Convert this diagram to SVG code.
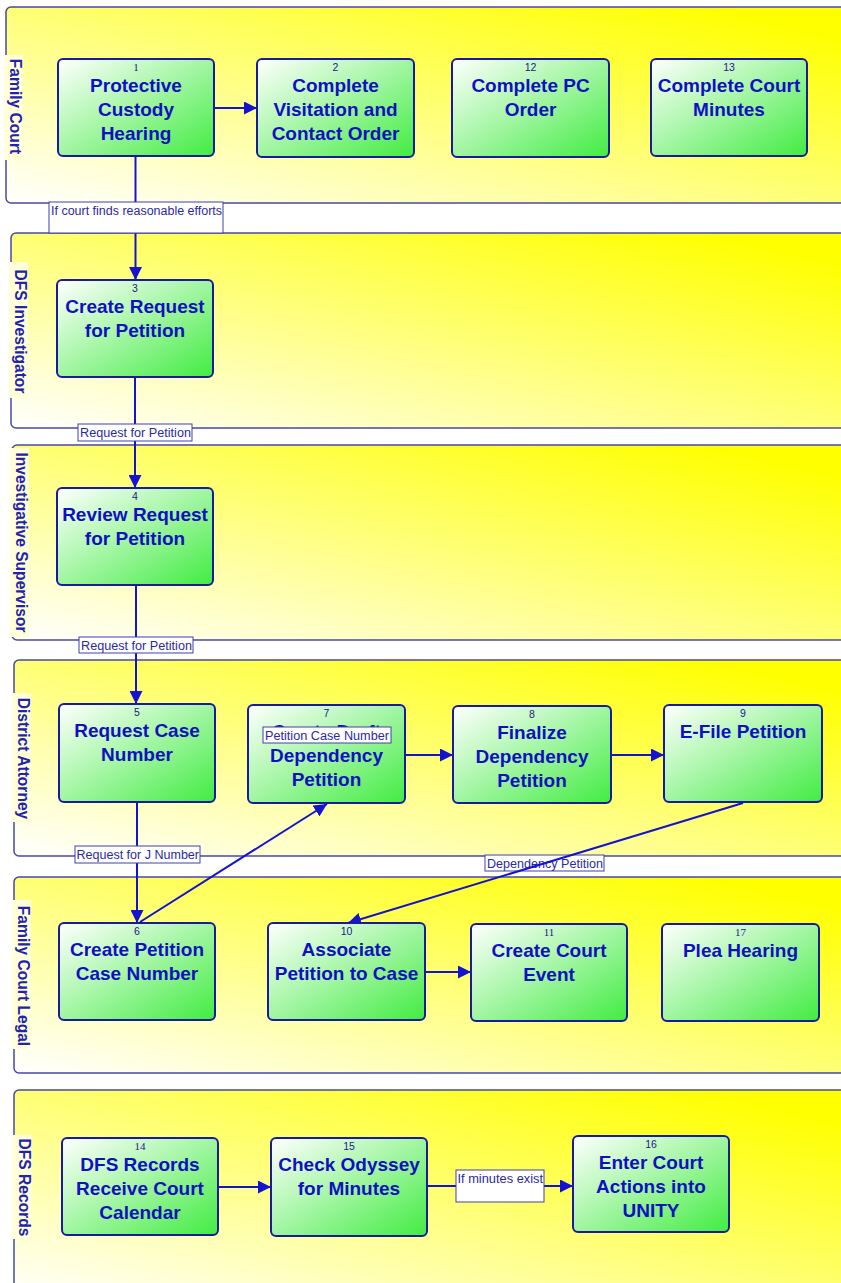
<svg xmlns="http://www.w3.org/2000/svg" width="841" height="1283" viewBox="0 0 841 1283">
  <defs>
    <linearGradient id="laneFill" x1="0" y1="1" x2="1" y2="0">
      <stop offset="0" stop-color="#FFFFFF"/>
      <stop offset="0.92" stop-color="#FFFF00"/>
      <stop offset="1" stop-color="#FFFF00"/>
    </linearGradient>
    <linearGradient id="nodeFill" x1="0" y1="0" x2="1" y2="1">
      <stop offset="0" stop-color="#FFFFFF"/>
      <stop offset="1" stop-color="#42EC42"/>
    </linearGradient>
    <marker id="arr" viewBox="0 0 12 12" refX="12" refY="6" markerWidth="13" markerHeight="13" markerUnits="userSpaceOnUse" orient="auto">
      <path d="M0,0 L12,6 L0,12 z" fill="#1414D0"/>
    </marker>
    <style>
      .lane { fill: url(#laneFill); stroke: #4848A8; stroke-width: 1.5; }
      .lanebg { fill: #FFFFD8; }
      .lanelbl { font-family: "Liberation Sans", Arial, sans-serif; font-weight: bold; font-size: 15.6px; fill: #2222B0; text-anchor: middle; }
      .node { fill: url(#nodeFill); stroke: #1A1A9C; stroke-width: 2; }
      .num { font-family: "Liberation Sans", Arial, sans-serif; font-size: 10.5px; fill: #20208A; text-anchor: middle; }
      .nums { font-family: "Liberation Serif", "Times New Roman", serif; font-size: 11px; fill: #20208A; text-anchor: middle; }
      .ttl { font-family: "Liberation Sans", Arial, sans-serif; font-weight: bold; font-size: 19px; fill: #1010C0; text-anchor: middle; }
      .conn { stroke: #1414D0; stroke-width: 2; fill: none; marker-end: url(#arr); }
      .lblbox { fill: #FFFFFF; stroke: #4040B0; stroke-width: 1; }
      .lbl { font-family: "Liberation Sans", Arial, sans-serif; font-size: 12.5px; fill: #2A2AA0; }
    </style>
  </defs>

  <rect width="841" height="1283" fill="#FFFFFF"/>

  <!-- swimlanes -->
  <g id="lanes">
    <g id="lane-family-court">
      <rect class="lane" x="6" y="7" width="845" height="196" rx="5"/>
      <rect class="lanebg" x="4" y="55" width="19" height="105"/>
      <text class="lanelbl" transform="translate(10,106.5) rotate(90)">Family Court</text>
    </g>
    <g id="lane-dfs-investigator">
      <rect class="lane" x="11" y="233" width="840" height="195" rx="5"/>
      <rect class="lanebg" x="9" y="262" width="19" height="136"/>
      <text class="lanelbl" transform="translate(15,331.5) rotate(90)">DFS Investigator</text>
    </g>
    <g id="lane-investigative-supervisor">
      <rect class="lane" x="12" y="445" width="839" height="195" rx="5"/>
      <rect class="lanebg" x="10" y="448" width="19" height="189"/>
      <text class="lanelbl" transform="translate(15.5,542.5) rotate(90)">Investigative Supervisor</text>
    </g>
    <g id="lane-district-attorney">
      <rect class="lane" x="14" y="660" width="837" height="196" rx="5"/>
      <rect class="lanebg" x="12" y="693" width="19" height="129"/>
      <text class="lanelbl" transform="translate(18,758.5) rotate(90)">District Attorney</text>
    </g>
    <g id="lane-family-court-legal">
      <rect class="lane" x="14" y="877" width="837" height="196" rx="5"/>
      <rect class="lanebg" x="12" y="900" width="19" height="149"/>
      <text class="lanelbl" transform="translate(18,976) rotate(90)">Family Court Legal</text>
    </g>
    <g id="lane-dfs-records">
      <rect class="lane" x="14" y="1090" width="837" height="210" rx="5"/>
      <rect class="lanebg" x="12" y="1135" width="20" height="104"/>
      <text class="lanelbl" transform="translate(19,1187.5) rotate(90)">DFS Records</text>
    </g>
  </g>

  <!-- connectors -->
  <g id="connectors">
    <path class="conn" d="M214,108 L257,108"/>
    <path class="conn" d="M135.5,156 L135.5,280"/>
    <path class="conn" d="M135,377 L135,488"/>
    <path class="conn" d="M136,585 L136,704"/>
    <path class="conn" d="M137,802 L137,923"/>
    <path class="conn" d="M140,922 L327,804"/>
    <path class="conn" d="M405,755 L453,755"/>
    <path class="conn" d="M611,755 L664,755"/>
    <path class="conn" d="M425,972 L471,972"/>
    <path class="conn" d="M218,1187 L271,1187"/>
    <path class="conn" d="M427,1186 L573,1186"/>
    <!-- E-File -> Associate runs over its own label -->
    <g id="label-dependency-petition">
      <rect class="lblbox" x="485" y="855" width="119" height="16"/>
      <text class="lbl" x="487" y="868" textLength="116" lengthAdjust="spacingAndGlyphs">Dependency Petition</text>
    </g>
    <path class="conn" d="M743,803 L348,923"/>
  </g>

  <!-- process nodes -->
  <g id="node-1">
    <rect class="node" x="58" y="59" width="156" height="97" rx="5"/>
    <text class="nums" x="136" y="71">1</text>
    <text class="ttl" x="136" y="92">Protective</text>
    <text class="ttl" x="136" y="116">Custody</text>
    <text class="ttl" x="136" y="140">Hearing</text>
  </g>
  <g id="node-2">
    <rect class="node" x="257" y="59" width="157" height="98" rx="5"/>
    <text class="num" x="335.5" y="71">2</text>
    <text class="ttl" x="335.5" y="92">Complete</text>
    <text class="ttl" x="335.5" y="116">Visitation and</text>
    <text class="ttl" x="335.5" y="140">Contact Order</text>
  </g>
  <g id="node-12">
    <rect class="node" x="452" y="59" width="157" height="98" rx="5"/>
    <text class="num" x="530.5" y="71">12</text>
    <text class="ttl" x="530.5" y="92">Complete PC</text>
    <text class="ttl" x="530.5" y="116">Order</text>
  </g>
  <g id="node-13">
    <rect class="node" x="651" y="59" width="156" height="97" rx="5"/>
    <text class="num" x="729" y="71">13</text>
    <text class="ttl" x="729" y="92">Complete Court</text>
    <text class="ttl" x="729" y="116">Minutes</text>
  </g>
  <g id="node-3">
    <rect class="node" x="57" y="280" width="156" height="97" rx="5"/>
    <text class="num" x="135" y="292">3</text>
    <text class="ttl" x="135" y="313">Create Request</text>
    <text class="ttl" x="135" y="337">for Petition</text>
  </g>
  <g id="node-4">
    <rect class="node" x="57" y="488" width="156" height="97" rx="5"/>
    <text class="num" x="135" y="500">4</text>
    <text class="ttl" x="135" y="521">Review Request</text>
    <text class="ttl" x="135" y="545">for Petition</text>
  </g>
  <g id="node-5">
    <rect class="node" x="59" y="704" width="156" height="98" rx="5"/>
    <text class="num" x="137" y="716">5</text>
    <text class="ttl" x="137" y="737">Request Case</text>
    <text class="ttl" x="137" y="761">Number</text>
  </g>
  <g id="node-7">
    <rect class="node" x="248" y="705" width="157" height="98" rx="5"/>
    <text class="num" x="326.5" y="717">7</text>
    <text class="ttl" x="326.5" y="738">Create Draft</text>
    <text class="ttl" x="326.5" y="762">Dependency</text>
    <text class="ttl" x="326.5" y="786">Petition</text>
  </g>
  <g id="node-8">
    <rect class="node" x="453" y="706" width="158" height="97" rx="5"/>
    <text class="num" x="532" y="718">8</text>
    <text class="ttl" x="532" y="739">Finalize</text>
    <text class="ttl" x="532" y="763">Dependency</text>
    <text class="ttl" x="532" y="787">Petition</text>
  </g>
  <g id="node-9">
    <rect class="node" x="664" y="705" width="158" height="97" rx="5"/>
    <text class="num" x="743" y="717">9</text>
    <text class="ttl" x="743" y="738">E-File Petition</text>
  </g>
  <g id="node-6">
    <rect class="node" x="59" y="923" width="156" height="97" rx="5"/>
    <text class="num" x="137" y="935">6</text>
    <text class="ttl" x="137" y="956">Create Petition</text>
    <text class="ttl" x="137" y="980">Case Number</text>
  </g>
  <g id="node-10">
    <rect class="node" x="268" y="923" width="157" height="97" rx="5"/>
    <text class="num" x="346.5" y="935">10</text>
    <text class="ttl" x="346.5" y="956">Associate</text>
    <text class="ttl" x="346.5" y="980">Petition to Case</text>
  </g>
  <g id="node-11">
    <rect class="node" x="471" y="924" width="156" height="97" rx="5"/>
    <text class="nums" x="549" y="936">11</text>
    <text class="ttl" x="549" y="957">Create Court</text>
    <text class="ttl" x="549" y="981">Event</text>
  </g>
  <g id="node-17">
    <rect class="node" x="662" y="924" width="157" height="97" rx="5"/>
    <text class="nums" x="740.5" y="936">17</text>
    <text class="ttl" x="740.5" y="957">Plea Hearing</text>
  </g>
  <g id="node-14">
    <rect class="node" x="62" y="1138" width="156" height="97" rx="5"/>
    <text class="nums" x="140" y="1150">14</text>
    <text class="ttl" x="140" y="1171">DFS Records</text>
    <text class="ttl" x="140" y="1195">Receive Court</text>
    <text class="ttl" x="140" y="1219">Calendar</text>
  </g>
  <g id="node-15">
    <rect class="node" x="271" y="1138" width="156" height="98" rx="5"/>
    <text class="num" x="349" y="1150">15</text>
    <text class="ttl" x="349" y="1171">Check Odyssey</text>
    <text class="ttl" x="349" y="1195">for Minutes</text>
  </g>
  <g id="node-16">
    <rect class="node" x="573" y="1136" width="156" height="96" rx="5"/>
    <text class="num" x="651" y="1148">16</text>
    <text class="ttl" x="651" y="1169">Enter Court</text>
    <text class="ttl" x="651" y="1193">Actions into</text>
    <text class="ttl" x="651" y="1217">UNITY</text>
  </g>

  <!-- connector labels -->
  <g id="connector-labels">
    <rect class="lblbox" x="49" y="202" width="174" height="31"/>
    <text class="lbl" x="51" y="215" textLength="171" lengthAdjust="spacingAndGlyphs">If court finds reasonable efforts</text>

    <rect class="lblbox" x="78" y="424" width="114" height="17"/>
    <text class="lbl" x="80" y="437" textLength="111" lengthAdjust="spacingAndGlyphs">Request for Petition</text>

    <rect class="lblbox" x="79" y="637" width="114" height="16"/>
    <text class="lbl" x="81" y="650" textLength="111" lengthAdjust="spacingAndGlyphs">Request for Petition</text>

    <rect class="lblbox" x="75" y="846" width="125" height="17"/>
    <text class="lbl" x="76.5" y="859" textLength="122.5" lengthAdjust="spacingAndGlyphs">Request for J Number</text>

    <rect class="lblbox" x="263" y="727" width="128" height="16"/>
    <text class="lbl" x="265" y="740" textLength="124" lengthAdjust="spacingAndGlyphs">Petition Case Number</text>

    <rect class="lblbox" x="456" y="1170" width="88" height="32"/>
    <text class="lbl" x="457.5" y="1183" textLength="85.5" lengthAdjust="spacingAndGlyphs">If minutes exist</text>
  </g>
</svg>
